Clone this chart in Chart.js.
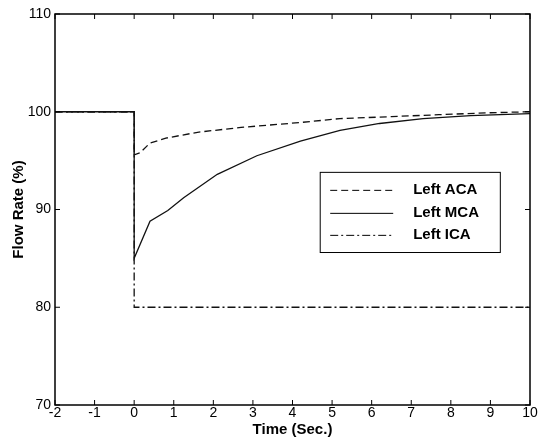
<!DOCTYPE html>
<html>
<head>
<meta charset="utf-8">
<script src="https://cdn.jsdelivr.net/npm/chart.js@4/dist/chart.umd.min.js"></script>
<style>
  html, body { margin: 0; padding: 0; background: #fff; }
  #wrap { width: 544px; height: 439px; }
</style>
</head>
<body>
<div id="wrap"><canvas id="flowChart" width="544" height="439"></canvas></div>
<script>
// ==================== DATA ====================
const seriesLabels = ['Left ACA', 'Left MCA', 'Left ICA'];

const acaTime = [-2, 0, 0, 0.15, 0.4, 0.8, 1.6, 2.7, 4.2, 5.2, 6.5, 7.7, 9, 10];
const acaFlow = [100, 100, 95.6, 95.8, 96.8, 97.3, 97.9, 98.4, 98.9, 99.3, 99.5, 99.7, 99.9, 100];

const mcaTime = [-2, 0, 0, 0.4, 0.85, 1.25, 2.1, 3.1, 4.2, 5.2, 6.2, 7.3, 8.5, 10];
const mcaFlow = [100, 100, 85.0, 88.8, 89.9, 91.2, 93.6, 95.5, 97.0, 98.1, 98.8, 99.3, 99.6, 99.8];

const icaTime = [-2, 0, 0, 10];
const icaFlow = [100, 100, 80, 80];

const xTicks = [-2, -1, 0, 1, 2, 3, 4, 5, 6, 7, 8, 9, 10];
const yTicks = [70, 80, 90, 100, 110];

const toPoints = (xs, ys) => xs.map((x, i) => ({ x, y: ys[i] }));

// ==================== PLUGINS ====================
// box around the plot plus inward ticks on all four sides (matlab style)
const boxTicks = {
  id: 'boxTicks',
  afterDraw(chart) {
    const { ctx, chartArea: a, scales } = chart;
    ctx.save();
    ctx.strokeStyle = '#000';
    ctx.lineWidth = 1.5;
    ctx.strokeRect(a.left, a.top, a.right - a.left, a.bottom - a.top);
    ctx.lineWidth = 1;
    ctx.beginPath();
    xTicks.forEach(t => {
      const px = scales.x.getPixelForValue(t);
      ctx.moveTo(px, a.bottom); ctx.lineTo(px, a.bottom - 5);
      ctx.moveTo(px, a.top); ctx.lineTo(px, a.top + 5);
    });
    yTicks.forEach(t => {
      const py = scales.y.getPixelForValue(t);
      ctx.moveTo(a.left, py); ctx.lineTo(a.left + 5, py);
      ctx.moveTo(a.right, py); ctx.lineTo(a.right - 5, py);
    });
    ctx.stroke();
    ctx.restore();
  }
};

// legend box inside the plot area
const boxLegend = {
  id: 'boxLegend',
  afterDraw(chart) {
    const { ctx, scales } = chart;
    const left = scales.x.getPixelForValue(4.7);
    const right = scales.x.getPixelForValue(9.25);
    const top = scales.y.getPixelForValue(93.8);
    const bottom = scales.y.getPixelForValue(85.6);
    ctx.save();
    ctx.fillStyle = '#fff';
    ctx.fillRect(left, top, right - left, bottom - top);
    ctx.strokeStyle = '#000';
    ctx.lineWidth = 1;
    ctx.strokeRect(left, top, right - left, bottom - top);
    ctx.font = 'bold 15px "Liberation Sans", Arial, sans-serif';
    ctx.textBaseline = 'middle';
    ctx.fillStyle = '#000';
    const rowY = [18, 41, 63];
    chart.data.datasets.forEach((ds, i) => {
      const y = top + rowY[i];
      ctx.beginPath();
      ctx.setLineDash(ds.borderDash || []);
      ctx.lineWidth = 1;
      ctx.moveTo(left + 10, y);
      ctx.lineTo(left + 73, y);
      ctx.stroke();
      ctx.setLineDash([]);
      ctx.fillText(ds.label, left + 93, y);
    });
    ctx.restore();
  }
};

// ==================== CHART ====================
const tickFont = { family: '"Liberation Sans", Arial, sans-serif', size: 14 };
const titleFont = { family: '"Liberation Sans", Arial, sans-serif', size: 15, weight: 'bold' };

new Chart(document.getElementById('flowChart'), {
  type: 'line',
  data: {
    datasets: [
      { label: seriesLabels[0], data: toPoints(acaTime, acaFlow), borderDash: [7, 4] },
      { label: seriesLabels[1], data: toPoints(mcaTime, mcaFlow), borderDash: [] },
      { label: seriesLabels[2], data: toPoints(icaTime, icaFlow), borderDash: [8, 3, 2, 3] }
    ].map(ds => Object.assign(ds, {
      borderColor: '#111',
      borderWidth: 1.3,
      pointRadius: 0,
      tension: 0,
      fill: false
    }))
  },
  options: {
    responsive: false,
    animation: false,
    layout: { padding: { top: 14, right: 14, left: 0, bottom: 0 } },
    plugins: { legend: { display: false }, tooltip: { enabled: false } },
    scales: {
      x: {
        type: 'linear',
        min: -2, max: 10,
        afterBuildTicks: s => { s.ticks = xTicks.map(v => ({ value: v })); },
        afterFit: s => { s.height = 34; },
        grid: { display: false, drawTicks: false },
        border: { display: false },
        ticks: { color: '#000', font: tickFont, padding: 0, maxRotation: 0 },
        title: { display: true, text: 'Time (Sec.)', color: '#000', font: titleFont, padding: 0 }
      },
      y: {
        min: 70, max: 110,
        afterBuildTicks: s => { s.ticks = yTicks.map(v => ({ value: v })); },
        afterFit: s => { s.width = 55; },
        grid: { display: false, drawTicks: false },
        border: { display: false },
        ticks: { color: '#000', font: tickFont, padding: 4 },
        title: { display: true, text: 'Flow Rate (%)', color: '#000', font: titleFont, padding: { top: 10, bottom: 0 } }
      }
    }
  },
  plugins: [boxTicks, boxLegend]
});
</script>
</body>
</html>
